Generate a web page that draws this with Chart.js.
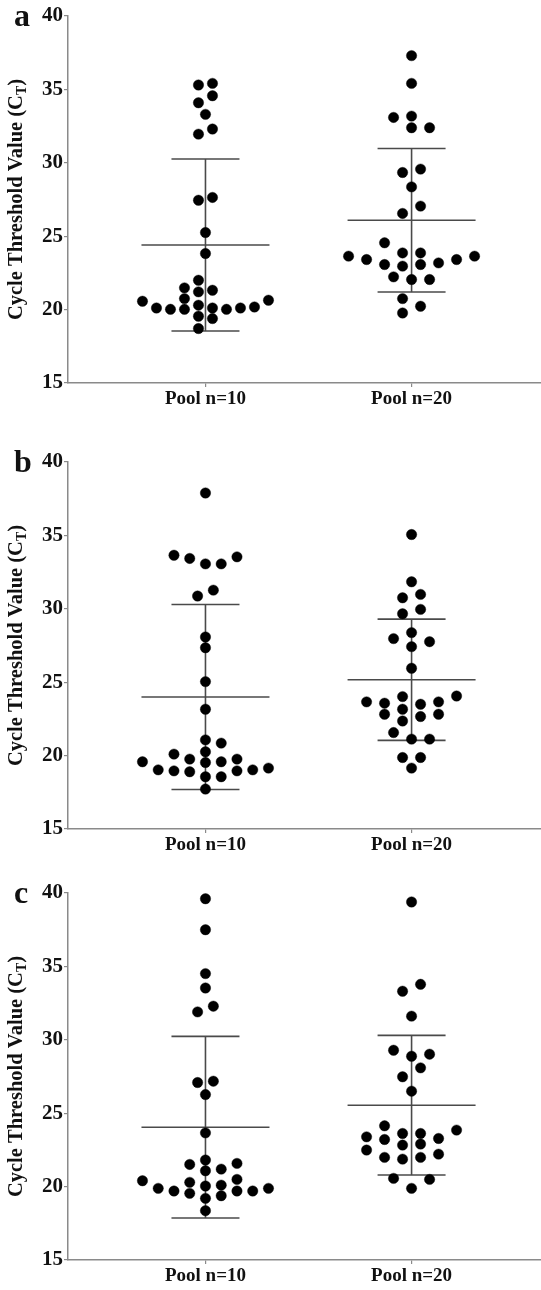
<!DOCTYPE html>
<html>
<head>
<meta charset="utf-8">
<title>Ct values by pool size</title>
<script src="https://cdn.jsdelivr.net/npm/chart.js@4.4.0/dist/chart.umd.min.js"></script>
<style>
  html, body { margin: 0; padding: 0; background: #fff; }
  body { width: 541px; height: 1290px; position: relative; overflow: hidden; }
  .panel { position: absolute; left: 0; width: 541px; height: 413px; }
  canvas { display: block; }
</style>
</head>
<body>
<div class="panel" style="top:0"><canvas id="chartA" width="541" height="413"></canvas></div>
<div class="panel" style="top:446px"><canvas id="chartB" width="541" height="413"></canvas></div>
<div class="panel" style="top:877px"><canvas id="chartC" width="541" height="413"></canvas></div>
<script>
const groups = ["Pool n=10", "Pool n=20"];
const yTicks = [15, 20, 25, 30, 35, 40];

// panel a
const ctA10 = [35.30, 35.41, 34.09, 34.57, 33.30, 31.95, 32.30, 27.45, 27.64, 25.25, 23.82,
  22.00, 21.48, 21.32, 21.21, 20.75, 20.57, 20.64, 20.11, 20.11, 20.11, 20.18, 20.02, 20.02,
  20.02, 20.30, 19.55, 19.39, 18.71];
const ctA20 = [37.30, 35.41, 33.18, 33.09, 32.39, 32.39, 29.57, 29.34, 28.36, 27.05, 26.55,
  24.55, 23.64, 23.86, 22.96, 23.18, 22.05, 23.41, 23.07, 22.05, 23.86, 23.07, 22.23, 23.41,
  23.64, 20.75, 20.23, 19.77];

// panel b
const ctB10 = [37.89, 33.43, 33.65, 33.06, 33.54, 33.06, 31.27, 30.87, 28.08, 27.35, 25.04,
  23.16, 21.07, 20.85, 20.26, 20.10, 19.58, 19.58, 19.76, 19.76, 19.53, 19.03, 19.15, 19.03,
  18.90, 18.96, 18.56, 18.56, 18.96, 17.72];
const ctB20 = [35.06, 31.84, 30.98, 30.75, 29.96, 29.66, 28.38, 27.97, 27.76, 27.42, 25.95,
  24.02, 23.57, 23.66, 23.66, 22.82, 22.82, 23.16, 22.36, 23.50, 22.66, 21.57, 24.06, 21.12,
  21.12, 19.87, 19.87, 19.15];

// panel c
const ctC10 = [39.61, 37.50, 34.51, 33.53, 32.29, 31.90, 27.18, 27.09, 26.27, 23.66, 21.58,
  21.19, 21.08, 21.51, 21.81, 20.10, 19.70, 19.88, 20.04, 19.20, 19.88, 20.40, 19.54, 20.49,
  19.70, 20.29, 19.38, 19.70, 18.36];
const ctC20 = [39.39, 33.31, 33.78, 31.61, 29.29, 29.02, 28.88, 28.09, 27.48, 26.50, 23.85,
  22.90, 23.28, 22.21, 23.39, 21.87, 24.14, 23.21, 21.99, 23.62, 22.83, 21.99, 23.62, 22.49,
  20.56, 20.49, 19.88];

const SERIF = '"Liberation Serif", "Times New Roman", serif';
const AXIS = "#8a8a8a";
const BAR = "#4a4a4a";
const INK = "#111";

const DOT = 10.5;        // min vertical gap between dots in one column, px
const MAX_STEP = 18;     // column spacing, px
const SWARM_HALF = 63;   // outermost column offset, px
const MEAN_HALF = 64;    // half width of the mean line, px
const CAP_HALF = 34;     // half width of the SD caps, px

Chart.defaults.font.family = SERIF;
Chart.defaults.font.weight = "bold";
Chart.defaults.color = INK;

const mean = a => a.reduce((s, v) => s + v, 0) / a.length;
const sd = a => {
  const m = mean(a);
  return Math.sqrt(a.reduce((s, v) => s + (v - m) * (v - m), 0) / (a.length - 1));
};

// column scatter layout: close values share a row and get spread sideways
function swarmOffsets(values, pxPerUnit) {
  const order = values.map((v, i) => i).sort((a, b) => values[a] - values[b]);
  const clusters = [];
  let cur = null, prev = -Infinity;
  for (const i of order) {
    const py = values[i] * pxPerUnit;
    if (!cur || py - prev >= DOT) { cur = []; clusters.push(cur); }
    cur.push(i);
    prev = py;
  }
  const col = new Array(values.length).fill(0);
  let widest = 1;
  for (const cl of clusters) {
    const tops = new Map();
    for (const i of cl) {
      const py = values[i] * pxPerUnit;
      for (let k = 0; ; k++) {
        const c = k % 2 ? (k + 1) / 2 : -k / 2;
        if (!tops.has(c) || py - tops.get(c) >= DOT) { tops.set(c, py); col[i] = c; break; }
      }
    }
    const cols = [...tops.keys()];
    const lo = Math.min(...cols), hi = Math.max(...cols);
    cl.forEach(i => { col[i] -= (lo + hi) / 2; });
    widest = Math.max(widest, hi - lo + 1);
  }
  const step = widest > 1 ? Math.min(MAX_STEP, 2 * SWARM_HALF / (widest - 1)) : MAX_STEP;
  return col.map(c => c * step);
}

// panel letter and the rotated y title with its subscript
const panelText = {
  id: "panelText",
  afterDraw(chart, args, opts) {
    const { ctx, chartArea } = chart;
    ctx.save();
    ctx.fillStyle = INK;
    ctx.textBaseline = "alphabetic";
    ctx.font = "bold 32px " + SERIF;
    ctx.fillText(opts.letter, 14, chartArea.top + 10);

    const main = "Cycle Threshold Value (C", sub = "T", tail = ")";
    const big = "bold 20.5px " + SERIF, small = "bold 14px " + SERIF;
    ctx.font = big;
    const w1 = ctx.measureText(main).width, w3 = ctx.measureText(tail).width;
    ctx.font = small;
    const w2 = ctx.measureText(sub).width;
    const total = w1 + w2 + w3;
    ctx.translate(22, (chartArea.top + chartArea.bottom) / 2);
    ctx.rotate(-Math.PI / 2);
    let x = -total / 2;
    ctx.font = big;
    ctx.fillText(main, x, 0);
    x += w1;
    ctx.font = small;
    ctx.fillText(sub, x, 4);
    x += w2;
    ctx.font = big;
    ctx.fillText(tail, x, 0);
    ctx.restore();
  }
};

function makePanel(id, letter, series) {
  const chart = new Chart(document.getElementById(id), {
    type: "scatter",
    data: { datasets: [] },
    options: {
      responsive: false,
      animation: false,
      events: [],
      layout: { autoPadding: false, padding: { top: 16, left: 0, right: 0, bottom: 0 } },
      plugins: {
        legend: { display: false },
        tooltip: { enabled: false },
        panelText: { letter: letter }
      },
      scales: {
        x: {
          type: "linear",
          min: 0.333,
          max: 2.628,
          afterBuildTicks: s => { s.ticks = groups.map((g, i) => ({ value: i + 1 })); },
          afterFit: s => { s.height = 30; },
          border: { color: AXIS, width: 1.5 },
          grid: { drawOnChartArea: false, color: AXIS, lineWidth: 1.2, tickLength: 4 },
          ticks: {
            callback: v => groups[v - 1],
            autoSkip: false,
            maxRotation: 0,
            padding: 1,
            color: INK,
            font: { size: 19, weight: "bold" }
          }
        },
        y: {
          min: 15,
          max: 40,
          afterBuildTicks: s => { s.ticks = yTicks.map(v => ({ value: v })); },
          afterFit: s => { s.width = 68; },
          border: { color: AXIS, width: 1.5 },
          grid: { drawOnChartArea: false, color: AXIS, lineWidth: 1.2, tickLength: 4 },
          ticks: { padding: 1, color: INK, font: { size: 21, weight: "bold" } }
        }
      }
    },
    plugins: [panelText]
  });

  const xs = chart.scales.x, ys = chart.scales.y;
  const xPx = xs.getPixelForValue(2) - xs.getPixelForValue(1);
  const yPx = Math.abs(ys.getPixelForValue(15) - ys.getPixelForValue(40)) / 25;
  const datasets = [];
  const seg = (a, b) => ({
    data: [a, b],
    showLine: true,
    pointRadius: 0,
    borderColor: BAR,
    borderWidth: 1.6,
    order: 1
  });

  series.forEach((values, g) => {
    const cx = g + 1;
    const offs = swarmOffsets(values, yPx);
    datasets.push({
      label: groups[g],
      data: values.map((v, i) => ({ x: cx + offs[i] / xPx, y: v })),
      pointRadius: 5.2,
      pointBackgroundColor: "#000",
      pointBorderColor: "#000",
      pointBorderWidth: 0.4,
      clip: false,
      order: 0
    });
    const m = mean(values), s = sd(values);
    const mh = MEAN_HALF / xPx, ch = CAP_HALF / xPx;
    datasets.push(seg({ x: cx - mh, y: m }, { x: cx + mh, y: m }));
    datasets.push(seg({ x: cx, y: m - s }, { x: cx, y: m + s }));
    datasets.push(seg({ x: cx - ch, y: m + s }, { x: cx + ch, y: m + s }));
    datasets.push(seg({ x: cx - ch, y: m - s }, { x: cx + ch, y: m - s }));
  });

  chart.data.datasets = datasets;
  chart.update("none");
  return chart;
}

makePanel("chartA", "a", [ctA10, ctA20]);
makePanel("chartB", "b", [ctB10, ctB20]);
makePanel("chartC", "c", [ctC10, ctC20]);
</script>
</body>
</html>
